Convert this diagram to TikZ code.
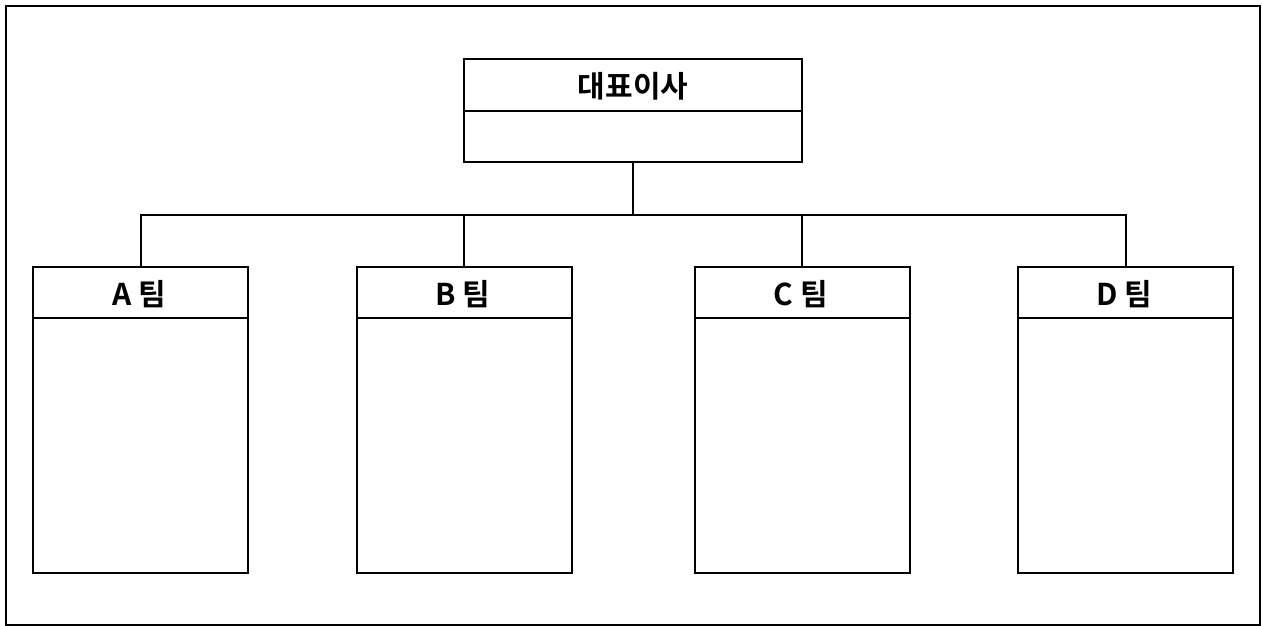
\documentclass[tikz,border=0pt]{standalone}
\usepackage{fontspec}
\newfontfamily\krfont{Noto Sans CJK KR}[BoldFont={* Bold}]
\begin{document}
\begin{tikzpicture}[x=1pt,y=-1pt,
  boxline/.style={draw=black,line width=2pt},
  conn/.style={draw=black,line width=1.7pt},
  title/.style={font=\krfont\bfseries\fontsize{30}{36}\selectfont,inner sep=0pt,anchor=center}]
\useasboundingbox (0,0) rectangle (1262,626);
\draw[boxline] (6,6) rectangle (1259.7,625);
% top box
\coordinate (ceoNW) at (464.3,59.3);
\coordinate (ceoSE) at (801.8,161.7);
\draw[boxline] (ceoNW) rectangle (ceoSE);
\draw[boxline] (464.3,111.2) -- (801.8,111.2);
\node[title] (ceo) at (633,86) {대표이사};
\coordinate (ceoB) at (633,161.7);
\coordinate (bus) at (633,214.8);
% teams
\foreach \nm/\l/\r/\txt in {a/33.3/248/A 팀, b/356.5/572/B 팀, c/694.5/910/C 팀, d/1018/1233.3/D 팀}{
  \draw[boxline] (\l,267) rectangle (\r,573.3);
  \draw[boxline] (\l,318) -- (\r,318);
  \node[title] (\nm) at ({(\l+\r)/2-1.5},294) {\txt};
  \coordinate (\nm-top) at ({(\l+\r)/2},267);
}
\coordinate (aBus) at (a-top |- bus);
\coordinate (dBus) at (d-top |- bus);
\draw[conn] (ceoB) -- (bus);
\draw[conn] (a-top) -- (aBus) -- (dBus) -- (d-top);
\draw[conn] (b-top) -- (b-top |- bus);
\draw[conn] (c-top) -- (c-top |- bus);
\end{tikzpicture}
\end{document}
